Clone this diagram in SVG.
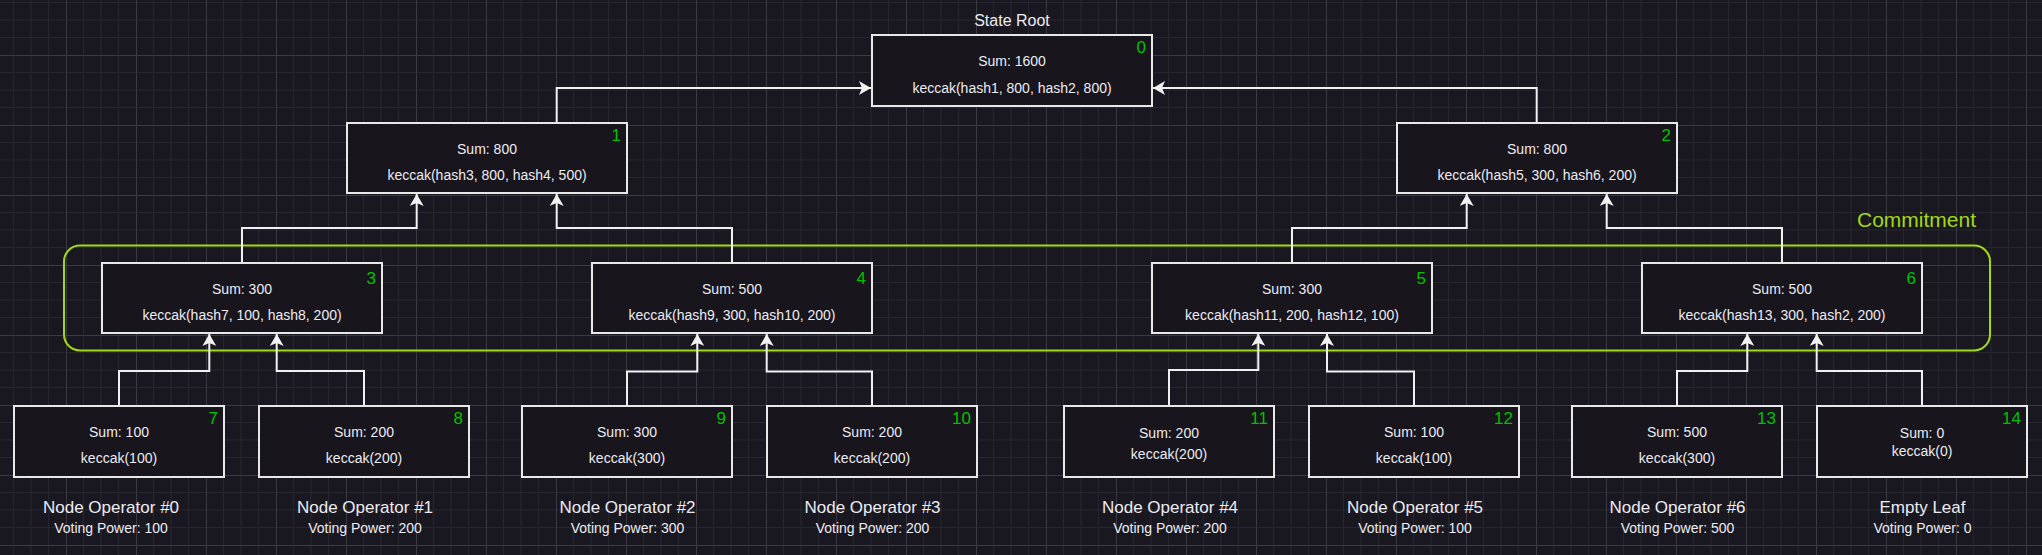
<svg xmlns="http://www.w3.org/2000/svg" width="2042" height="555" viewBox="0 0 2042 555">
<defs>
<pattern id="grid" x="-4" y="-15" width="70" height="70" patternUnits="userSpaceOnUse">
<path d="M17.5,0V70M35,0V70M52.5,0V70M0,17.5H70M0,35H70M0,52.5H70" stroke="#27252d" stroke-width="1" fill="none"/>
<path d="M0.5,0V70M0,0.5H70" stroke="#3b3941" stroke-width="1" fill="none"/>
</pattern>
<marker id="arr" viewBox="0 0 12 14" markerWidth="12" markerHeight="14" refX="12" refY="7" orient="auto" markerUnits="userSpaceOnUse">
<path d="M0,0 L12,7 L0,14 L3,7 Z" fill="#f2f2f2"/>
</marker>
<style>
text{font-family:"Liberation Sans",Arial,Helvetica,sans-serif;fill:#ececf2}
.box{fill:#18151d;stroke:#e8e8e8;stroke-width:2}
.t{font-size:14px;text-anchor:middle}
.n{font-size:17px;text-anchor:end;fill:#00c000}
.lbl{font-size:17px;text-anchor:middle}
.conn path{fill:none;stroke:#f0f0f0;stroke-width:2;marker-end:url(#arr)}
</style>
</defs>
<rect width="2042" height="555" fill="#19171f"/>
<rect width="2042" height="555" fill="url(#grid)"/>

<g id="commitment">
<rect x="64" y="245.5" width="1926" height="105" rx="16" ry="16" fill="none" stroke="#a2d915" stroke-width="2"/>
<text x="1857" y="227" style="font-size:21px;fill:#a2d915">Commitment</text>
</g>

<g class="conn" id="connectors">
<path d="M556.7,123V88H871"/>
<path d="M1536.7,123V88H1153"/>
<path d="M242,263V228H416.7V194"/>
<path d="M732,263V228H556.7V194"/>
<path d="M1292,263V228H1466.7V194"/>
<path d="M1782,263V228H1606.7V194"/>
<path d="M119,406V371H209.3V334"/>
<path d="M364,406V371H276.7V334"/>
<path d="M627,406V371.5H697.3V334"/>
<path d="M872,406V371.5H766.7V334"/>
<path d="M1169,406V370H1258.3V334"/>
<path d="M1414,406V371.5H1327V334"/>
<path d="M1677,406V371H1747.3V334"/>
<path d="M1922,406V371H1816.7V334"/>
</g>

<g id="node0">
<text x="1012" y="25.5" class="t" style="font-size:16px">State Root</text>
<rect class="box" x="872" y="35" width="280" height="71"/>
<text class="n" x="1146" y="53">0</text>
<text class="t" x="1012" y="66">Sum: 1600</text>
<text class="t" x="1012" y="92.5">keccak(hash1, 800, hash2, 800)</text>
</g>
<g id="node1">
<rect class="box" x="347" y="123" width="280" height="70"/>
<text class="n" x="621" y="141">1</text>
<text class="t" x="487" y="153.5">Sum: 800</text>
<text class="t" x="487" y="179.5">keccak(hash3, 800, hash4, 500)</text>
</g>
<g id="node2">
<rect class="box" x="1397" y="123" width="280" height="70"/>
<text class="n" x="1671" y="141">2</text>
<text class="t" x="1537" y="153.5">Sum: 800</text>
<text class="t" x="1537" y="179.5">keccak(hash5, 300, hash6, 200)</text>
</g>
<g id="node3">
<rect class="box" x="102" y="263" width="280" height="70"/>
<text class="n" x="376" y="283.5">3</text>
<text class="t" x="242" y="293.5">Sum: 300</text>
<text class="t" x="242" y="319.5">keccak(hash7, 100, hash8, 200)</text>
</g>
<g id="node4">
<rect class="box" x="592" y="263" width="280" height="70"/>
<text class="n" x="866" y="283.5">4</text>
<text class="t" x="732" y="293.5">Sum: 500</text>
<text class="t" x="732" y="319.5">keccak(hash9, 300, hash10, 200)</text>
</g>
<g id="node5">
<rect class="box" x="1152" y="263" width="280" height="70"/>
<text class="n" x="1426" y="283.5">5</text>
<text class="t" x="1292" y="293.5">Sum: 300</text>
<text class="t" x="1292" y="319.5">keccak(hash11, 200, hash12, 100)</text>
</g>
<g id="node6">
<rect class="box" x="1642" y="263" width="280" height="70"/>
<text class="n" x="1916" y="283.5">6</text>
<text class="t" x="1782" y="293.5">Sum: 500</text>
<text class="t" x="1782" y="319.5">keccak(hash13, 300, hash2, 200)</text>
</g>

<g id="node7">
<rect class="box" x="14" y="406" width="210" height="71"/>
<text class="n" x="218" y="424">7</text>
<text class="t" x="119" y="437">Sum: 100</text>
<text class="t" x="119" y="463">keccak(100)</text>
<text class="lbl" x="111" y="512.5">Node Operator #0</text>
<text class="t" x="111" y="532.5">Voting Power: 100</text>
</g>
<g id="node8">
<rect class="box" x="259" y="406" width="210" height="71"/>
<text class="n" x="463" y="424">8</text>
<text class="t" x="364" y="437">Sum: 200</text>
<text class="t" x="364" y="463">keccak(200)</text>
<text class="lbl" x="365" y="512.5">Node Operator #1</text>
<text class="t" x="365" y="532.5">Voting Power: 200</text>
</g>
<g id="node9">
<rect class="box" x="522" y="406" width="210" height="71"/>
<text class="n" x="726" y="424">9</text>
<text class="t" x="627" y="437">Sum: 300</text>
<text class="t" x="627" y="463">keccak(300)</text>
<text class="lbl" x="627.5" y="512.5">Node Operator #2</text>
<text class="t" x="627.5" y="532.5">Voting Power: 300</text>
</g>
<g id="node10">
<rect class="box" x="767" y="406" width="210" height="71"/>
<text class="n" x="971" y="424">10</text>
<text class="t" x="872" y="437">Sum: 200</text>
<text class="t" x="872" y="463">keccak(200)</text>
<text class="lbl" x="872.5" y="512.5">Node Operator #3</text>
<text class="t" x="872.5" y="532.5">Voting Power: 200</text>
</g>
<g id="node11">
<rect class="box" x="1064" y="406" width="210" height="71"/>
<text class="n" x="1268" y="424">11</text>
<text class="t" x="1169" y="438.3">Sum: 200</text>
<text class="t" x="1169" y="459.3">keccak(200)</text>
<text class="lbl" x="1170" y="512.5">Node Operator #4</text>
<text class="t" x="1170" y="532.5">Voting Power: 200</text>
</g>
<g id="node12">
<rect class="box" x="1309" y="406" width="210" height="71"/>
<text class="n" x="1513" y="424">12</text>
<text class="t" x="1414" y="437">Sum: 100</text>
<text class="t" x="1414" y="463">keccak(100)</text>
<text class="lbl" x="1415" y="512.5">Node Operator #5</text>
<text class="t" x="1415" y="532.5">Voting Power: 100</text>
</g>
<g id="node13">
<rect class="box" x="1572" y="406" width="210" height="71"/>
<text class="n" x="1776" y="424">13</text>
<text class="t" x="1677" y="437">Sum: 500</text>
<text class="t" x="1677" y="463">keccak(300)</text>
<text class="lbl" x="1677.5" y="512.5">Node Operator #6</text>
<text class="t" x="1677.5" y="532.5">Voting Power: 500</text>
</g>
<g id="node14">
<rect class="box" x="1817" y="406" width="210" height="71"/>
<text class="n" x="2021" y="424">14</text>
<text class="t" x="1922" y="438.3">Sum: 0</text>
<text class="t" x="1922" y="456">keccak(0)</text>
<text class="lbl" x="1922.5" y="512.5">Empty Leaf</text>
<text class="t" x="1922.5" y="532.5">Voting Power: 0</text>
</g>
</svg>
